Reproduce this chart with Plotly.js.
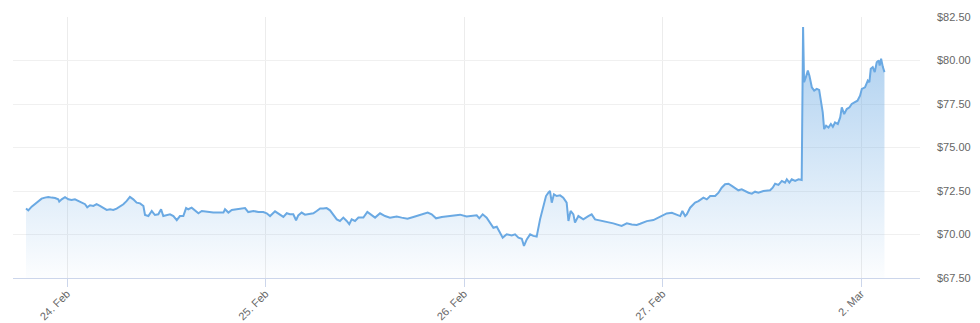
<!DOCTYPE html>
<html>
<head>
<meta charset="utf-8">
<script src="https://cdn.plot.ly/plotly-3.0.1.min.js"></script>
<style>html,body{margin:0;padding:0;background:#fff;}#chart{width:980px;height:323px;}</style>
</head>
<body>
<div id="chart"></div>
<script>
// Trading-time index: 0 = 24 Feb, 1 = 25 Feb, 2 = 26 Feb, 3 = 27 Feb, 4 = 2 Mar
const tradingTime = [
 -0.2065,-0.195,-0.178,-0.161,-0.144,-0.128,-0.111,-0.094,-0.077,-0.060,-0.044,-0.039,-0.027,-0.010,0.007,0.023,0.040,0.057,0.074,0.091,
 0.102,0.116,0.133,0.149,0.166,0.183,0.200,0.217,0.233,0.250,0.267,0.284,0.301,0.317,0.334,0.351,0.368,0.385,0.393,0.410,
 0.427,0.443,0.460,0.474,0.485,0.502,0.519,0.536,0.553,0.569,0.586,0.600,0.611,0.628,0.645,0.662,0.679,0.704,0.737,0.788,
 0.796,0.813,0.830,0.855,0.872,0.897,0.913,0.939,0.964,0.989,1.006,1.023,1.048,1.073,1.090,1.107,1.123,1.140,1.154,1.165,
 1.182,1.199,1.216,1.241,1.258,1.275,1.291,1.308,1.325,
 1.342,1.359,1.375,1.392,1.409,1.422,1.434,1.451,1.468,1.493,1.513,1.535,1.552,1.577,1.602,1.627,1.661,1.686,1.715,1.745,
 1.778,1.817,1.837,1.859,1.888,1.921,1.955,1.980,2.013,2.039,2.064,2.077,2.094,2.114,2.131,2.148,2.165,2.181,2.195,2.215,
 2.240,2.257,2.274,2.291,2.302,2.316,2.333,2.349,2.366,2.383,2.400,2.413,2.425,2.433,2.442,2.453,2.467,2.484,2.500,2.517,
 2.526,2.537,2.551,2.559,2.576,2.601,2.626,2.643,2.660,2.702,2.752,2.794,2.820,2.845,2.870,
 2.887,2.921,2.954,2.979,2.996,3.021,3.047,3.072,3.089,3.100,3.114,3.122,3.139,3.164,3.181,3.206,3.223,3.240,3.265,3.282,
 3.298,3.315,3.332,3.349,3.366,3.382,3.399,3.416,3.433,3.450,3.466,3.483,3.508,3.542,3.555,3.567,3.584,3.601,3.617,3.626,
 3.639,3.651,3.668,3.685,3.701,3.708,3.713,3.722,3.732,3.740,3.752,3.764,3.777,3.789,3.799,3.807,3.814,3.824,3.836,3.848,
 3.858,3.869,3.883,3.895,3.903,3.915,3.928,3.942,3.953,3.970,3.982,3.995,4.004,4.020,4.034,4.042,4.049,4.059,4.069,4.079,
 4.089,4.094,4.101,4.110,4.118
];
const price = [
 71.49,71.39,71.60,71.77,71.93,72.06,72.12,72.16,72.12,72.10,72.02,71.89,72.02,72.14,72.02,71.98,72.02,71.93,71.83,71.74,
 71.56,71.68,71.64,71.74,71.64,71.54,71.41,71.45,71.41,71.49,71.60,71.74,71.93,72.16,72.02,71.83,71.79,71.64,71.12,71.06,
 71.35,71.12,71.16,71.45,71.06,71.10,71.16,71.06,70.82,71.06,71.06,71.52,71.45,71.54,71.39,71.22,71.35,71.31,71.26,71.26,
 71.45,71.26,71.41,71.45,71.49,71.52,71.29,71.35,71.29,71.29,71.22,71.06,71.33,71.16,71.01,71.22,71.16,71.16,70.82,71.10,
 71.26,71.14,71.18,71.22,71.35,71.50,71.49,71.52,71.39,
 71.16,70.87,70.78,70.97,70.78,70.59,70.87,70.78,70.97,70.97,71.30,71.10,70.97,71.22,71.06,70.97,71.03,70.97,70.91,71.01,
 71.14,71.26,71.16,70.93,71.01,71.06,71.12,71.14,71.03,71.06,71.10,70.93,71.16,70.97,70.68,70.39,70.45,70.11,69.82,70.01,
 69.95,70.01,69.82,69.76,69.34,69.72,70.01,69.92,69.88,70.87,71.64,72.21,72.41,72.50,71.83,72.31,72.21,72.25,72.12,71.83,
 70.78,71.35,71.16,70.68,71.06,70.87,71.06,71.16,70.87,70.78,70.64,70.49,70.64,70.57,70.55,
 70.62,70.77,70.83,70.96,71.06,71.21,71.25,71.15,71.06,71.35,71.06,71.15,71.54,71.83,71.92,72.12,72.02,72.21,72.21,72.40,
 72.69,72.89,72.92,72.79,72.65,72.54,72.60,72.50,72.40,72.35,72.46,72.40,72.50,72.54,72.69,72.92,72.85,73.08,72.98,73.17,
 72.98,73.17,73.08,73.17,73.13,81.92,78.75,79.04,79.42,79.13,78.46,78.27,78.37,78.31,77.69,77.02,76.06,76.25,76.15,76.35,
 76.19,76.44,76.35,76.73,77.31,76.92,77.21,77.31,77.50,77.60,77.69,77.98,78.37,78.46,78.85,78.75,79.52,79.62,79.33,79.90,
 80.00,79.71,80.10,79.62,79.33
];
const dayTicks = [0, 1, 2, 3, 4];
const dayLabels = ['24. Feb', '25. Feb', '26. Feb', '27. Feb', '2. Mar'];
const priceTicks = [67.5, 70, 72.5, 75, 77.5, 80, 82.5];
const priceLabels = priceTicks.map(v => '$' + v.toFixed(2));

const trace = {
  x: tradingTime,
  y: price,
  type: 'scatter',
  mode: 'lines',
  line: {color: '#6aa9e3', width: 2},
  fill: 'tozeroy',
  fillgradient: {
    type: 'vertical',
    start: 67.5,
    stop: 82.5,
    colorscale: [[0, 'rgba(106,169,227,0.02)'], [1, 'rgba(106,169,227,0.6)']]
  },
  hoverinfo: 'x+y'
};

const font = {family: 'Liberation Sans, Arial, sans-serif', size: 11, color: '#666666'};

const layout = {
  width: 980,
  height: 323,
  margin: {l: 13, r: 60, t: 17, b: 45},
  paper_bgcolor: '#ffffff',
  plot_bgcolor: '#ffffff',
  showlegend: false,
  font: font,
  xaxis: {
    range: [-0.272, 4.297],
    tickvals: dayTicks,
    ticktext: dayLabels,
    tickangle: -45,
    ticks: 'outside',
    ticklen: 8,
    tickcolor: '#ccd6eb',
    ticklabelstandoff: -4,
    showgrid: true,
    gridcolor: '#ececec',
    gridwidth: 1,
    showline: true,
    linecolor: '#ccd6eb',
    linewidth: 1,
    zeroline: false,
    tickfont: font,
    fixedrange: true
  },
  yaxis: {
    side: 'right',
    range: [67.5, 82.5],
    tickvals: priceTicks,
    ticktext: priceLabels,
    ticks: '',
    ticklabelstandoff: 16,
    showgrid: true,
    gridcolor: '#f0f0f0',
    gridwidth: 1,
    showline: false,
    zeroline: false,
    tickfont: font,
    fixedrange: true
  }
};

Plotly.newPlot('chart', [trace], layout, {displayModeBar: false, staticPlot: true});
</script>
</body>
</html>
